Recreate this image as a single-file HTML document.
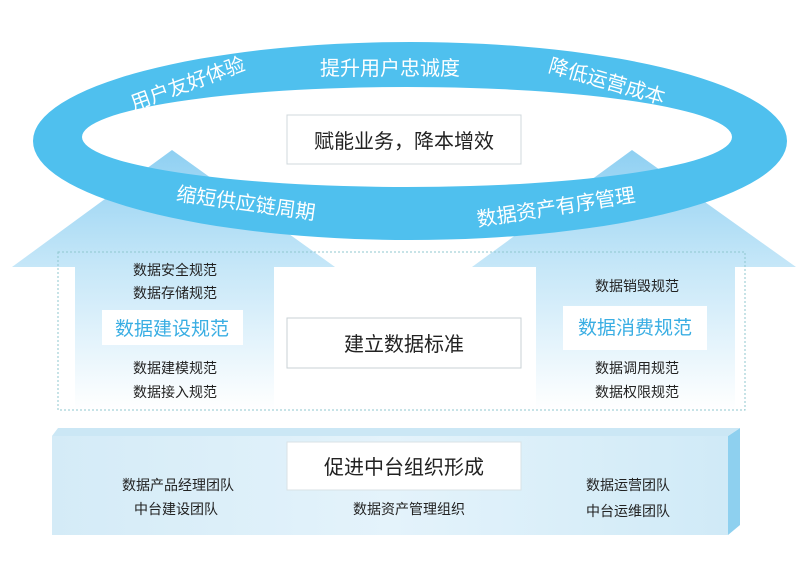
<!DOCTYPE html>
<html><head><meta charset="utf-8"><style>
html,body{margin:0;padding:0;background:#fff;}
svg{display:block;}
text{font-family:"Liberation Sans","Noto Sans CJK SC",sans-serif;}
</style></head><body>
<svg width="800" height="561" viewBox="0 0 800 561" xmlns="http://www.w3.org/2000/svg">
<defs>
<linearGradient id="ag" x1="0" y1="0" x2="0" y2="1">
<stop offset="0" stop-color="#8fd0f2"/><stop offset="0.45" stop-color="#c6e7f8"/><stop offset="1" stop-color="#ffffff"/>
</linearGradient>
<linearGradient id="pg" x1="0" y1="0" x2="1" y2="0">
<stop offset="0" stop-color="#d4ebf7"/><stop offset="0.5" stop-color="#e4f3fb"/><stop offset="1" stop-color="#d0eaf7"/>
</linearGradient>
</defs>
<rect width="800" height="561" fill="#fff"/>
<path d="M172,150 L335,267 L274,267 L274,410 L75,410 L75,267 L12,267 Z" fill="url(#ag)"/>
<path d="M632,150 L796,267 L735,267 L735,410 L536,410 L536,267 L472,267 Z" fill="url(#ag)"/>
<path fill-rule="evenodd" fill="#4fc0ee" d="M33,141 A377,99 0 1,0 787,141 A377,99 0 1,0 33,141 Z M82,137 A325,50 0 1,0 732,137 A325,50 0 1,0 82,137 Z"/>
<g fill="#fff" font-size="20" text-anchor="middle">
<text transform="translate(190,90) rotate(-20)">用户友好体验</text>
<text x="390" y="75">提升用户忠诚度</text>
<text transform="translate(605,88) rotate(16)">降低运营成本</text>
<text transform="translate(245,210) rotate(8)">缩短供应链周期</text>
<text transform="translate(557,214) rotate(-9)">数据资产有序管理</text>
</g>
<rect x="287" y="115" width="234" height="49" fill="#fff" stroke="#d0d8dc"/>
<text x="404" y="148" font-size="20" text-anchor="middle" fill="#222">赋能业务，降本增效</text>
<rect x="58" y="252" width="687" height="158" fill="none" stroke="#8fc7cf" stroke-dasharray="2,2"/>
<g font-size="14" fill="#222" text-anchor="middle">
<text x="175" y="275">数据安全规范</text>
<text x="175" y="298">数据存储规范</text>
<text x="175" y="373">数据建模规范</text>
<text x="175" y="397">数据接入规范</text>
<text x="637" y="291">数据销毁规范</text>
<text x="637" y="373">数据调用规范</text>
<text x="637" y="397">数据权限规范</text>
</g>
<rect x="102" y="310" width="141" height="35" fill="#fff"/>
<text x="172" y="335" font-size="19" fill="#3aaee3" text-anchor="middle">数据建设规范</text>
<rect x="563" y="306" width="144" height="44" fill="#fff"/>
<text x="635" y="334" font-size="19" fill="#3aaee3" text-anchor="middle">数据消费规范</text>
<rect x="287" y="318" width="234" height="50" fill="#fff" stroke="#c8d2d6"/>
<text x="404" y="351" font-size="20" text-anchor="middle" fill="#222">建立数据标准</text>
<path d="M728,436 L740,428 L740,525 L728,535 Z" fill="#8ed0ef"/>
<path d="M52,436 L58,428 L740,428 L728,436 Z" fill="#cbe7f5"/>
<rect x="52" y="436" width="676" height="99" fill="url(#pg)"/>
<rect x="287" y="442" width="234" height="48" fill="#fff" stroke="#d8e2e6"/>
<text x="404" y="474" font-size="20" text-anchor="middle" fill="#222">促进中台组织形成</text>
<g font-size="14" fill="#222" text-anchor="middle">
<text x="178" y="490">数据产品经理团队</text>
<text x="176" y="514">中台建设团队</text>
<text x="409" y="514">数据资产管理组织</text>
<text x="628" y="490">数据运营团队</text>
<text x="628" y="516">中台运维团队</text>
</g>
</svg>
</body></html>
